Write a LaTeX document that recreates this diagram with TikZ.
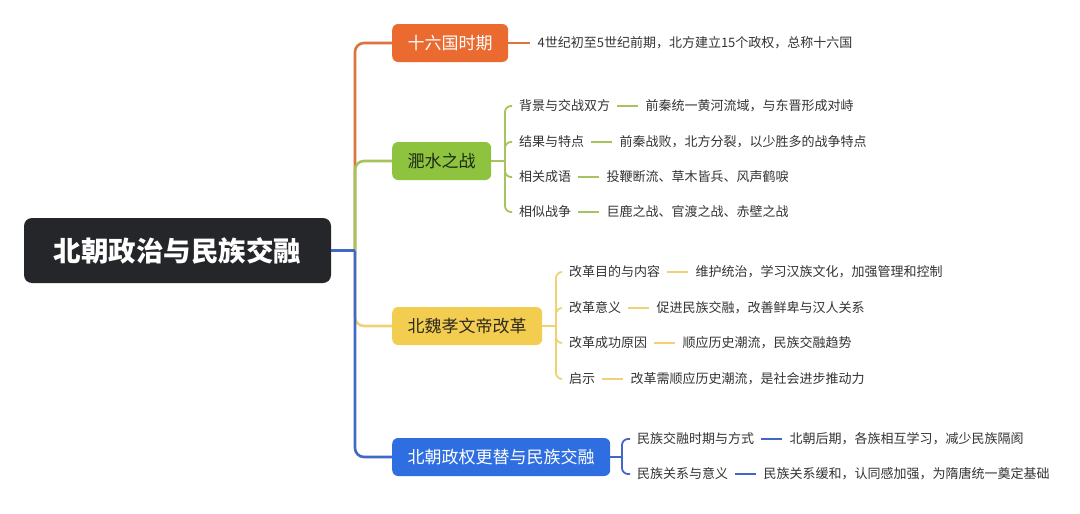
\documentclass[tikz,border=0pt]{standalone}
\usepackage{fontspec}
\setmainfont{Noto Sans CJK SC}
\usetikzlibrary{positioning}

\definecolor{rootdark}{HTML}{25262A}
\definecolor{sixorange}{HTML}{EA6A30}
\definecolor{sixline}{HTML}{DD7440}
\definecolor{feigreen}{HTML}{8DC33F}
\definecolor{feiline}{HTML}{A5C45C}
\definecolor{feitext}{HTML}{1F2A12}
\definecolor{weiyellow}{HTML}{F3CD4F}
\definecolor{weiline}{HTML}{F0D275}
\definecolor{weitext}{HTML}{2E2A1E}
\definecolor{chaoblue}{HTML}{2F6EE0}
\definecolor{chaoline}{HTML}{4168C6}
\definecolor{leafgray}{HTML}{333333}

\begin{document}
\begin{tikzpicture}[x=1pt,y=-1pt,
    rootbox/.style={fill=rootdark, text=white, rounded corners=8pt,
        minimum width=307pt, minimum height=65pt,
        font=\fontsize{27.5}{30}\selectfont\bfseries},
    branchbox/.style={anchor=west, rounded corners=6pt, minimum height=38pt,
        inner xsep=15.5pt, font=\fontsize{17}{20}\selectfont},
    leaf/.style={anchor=west, inner xsep=7pt, inner ysep=2pt, text=leafgray,
        font=\fontsize{13}{15}\selectfont},
    trunk/.style={line width=2.6pt, rounded corners=9pt},
    twig/.style={line width=1.8pt, rounded corners=6pt}]

    % Canvas
    \fill[white] (0,0) rectangle (1080,514);
    \useasboundingbox (0,0) rectangle (1080,514);

    % Central topic
    \node[rootbox] (root) at (177.5,250.5) {北朝政治与民族交融};
    \coordinate (junc) at (355,250.5);

    % Main branches
    \node[branchbox, fill=sixorange, text=white] (six) at (392,43) {十六国时期};
    \node[branchbox, fill=feigreen, text=feitext] (fei) at (392,161) {淝水之战};
    \node[branchbox, fill=weiyellow, text=weitext] (wei) at (392,326) {北魏孝文帝改革};
    \node[branchbox, fill=chaoblue, text=white] (chao) at (392,457) {北朝政权更替与民族交融};

    % Trunk lines (drawn so that the nearer branch lies on top)
    \draw[trunk, sixline] (junc) |- (six.west);
    \draw[trunk, feiline] (junc) |- (fei.west);
    \draw[trunk, weiline] (junc) |- (wei.west);
    \draw[trunk, chaoline] (junc) |- (chao.west);
    \draw[trunk, chaoline] (root.east) -- (junc);

    % Sixteen kingdoms
    \node[leaf, right=22pt of six] (six1) {4世纪初至5世纪前期，北方建立15个政权，总称十六国};
    \draw[twig, sixline] (six.east) -- (six1.west);

    % Battle of Fei River
    \coordinate (feib) at (505,161);
    \node[leaf] (fei1) at (512,106) {背景与交战双方};
    \node[leaf] (fei2) at (512,142) {结果与特点};
    \node[leaf] (fei3) at (512,177) {相关成语};
    \node[leaf] (fei4) at (512,212) {相似战争};
    \node[leaf, right=21pt of fei1] (fei1d) {前秦统一黄河流域，与东晋形成对峙};
    \node[leaf, right=21pt of fei2] (fei2d) {前秦战败，北方分裂，以少胜多的战争特点};
    \node[leaf, right=21pt of fei3] (fei3d) {投鞭断流、草木皆兵、风声鹤唳};
    \node[leaf, right=21pt of fei4] (fei4d) {巨鹿之战、官渡之战、赤壁之战};
    \draw[twig, feiline] (fei.east) -- (feib);
    \draw[twig, feiline] (feib) |- (fei1.west);
    \draw[twig, feiline] (feib) |- (fei2.west);
    \draw[twig, feiline] (feib) |- (fei3.west);
    \draw[twig, feiline] (feib) |- (fei4.west);
    \draw[twig, feiline] (fei1.east) -- (fei1d.west);
    \draw[twig, feiline] (fei2.east) -- (fei2d.west);
    \draw[twig, feiline] (fei3.east) -- (fei3d.west);
    \draw[twig, feiline] (fei4.east) -- (fei4d.west);

    % Reform of Emperor Xiaowen
    \coordinate (weib) at (556,326);
    \node[leaf] (wei1) at (562,272) {改革目的与内容};
    \node[leaf] (wei2) at (562,308) {改革意义};
    \node[leaf] (wei3) at (562,343) {改革成功原因};
    \node[leaf] (wei4) at (562,379) {启示};
    \node[leaf, right=21pt of wei1] (wei1d) {维护统治，学习汉族文化，加强管理和控制};
    \node[leaf, right=21pt of wei2] (wei2d) {促进民族交融，改善鲜卑与汉人关系};
    \node[leaf, right=21pt of wei3] (wei3d) {顺应历史潮流，民族交融趋势};
    \node[leaf, right=21pt of wei4] (wei4d) {改革需顺应历史潮流，是社会进步推动力};
    \draw[twig, weiline] (wei.east) -- (weib);
    \draw[twig, weiline] (weib) |- (wei1.west);
    \draw[twig, weiline] (weib) |- (wei2.west);
    \draw[twig, weiline] (weib) |- (wei3.west);
    \draw[twig, weiline] (weib) |- (wei4.west);
    \draw[twig, weiline] (wei1.east) -- (wei1d.west);
    \draw[twig, weiline] (wei2.east) -- (wei2d.west);
    \draw[twig, weiline] (wei3.east) -- (wei3d.west);
    \draw[twig, weiline] (wei4.east) -- (wei4d.west);

    % Northern dynasties
    \coordinate (chaob) at (622,457);
    \node[leaf] (chao1) at (630,439) {民族交融时期与方式};
    \node[leaf] (chao2) at (630,474) {民族关系与意义};
    \node[leaf, right=21pt of chao1] (chao1d) {北朝后期，各族相互学习，减少民族隔阂};
    \node[leaf, right=21pt of chao2] (chao2d) {民族关系缓和，认同感加强，为隋唐统一奠定基础};
    \draw[twig, chaoline] (chao.east) -- (chaob);
    \draw[twig, chaoline] (chaob) |- (chao1.west);
    \draw[twig, chaoline] (chaob) |- (chao2.west);
    \draw[twig, chaoline] (chao1.east) -- (chao1d.west);
    \draw[twig, chaoline] (chao2.east) -- (chao2d.west);
\end{tikzpicture}
\end{document}
